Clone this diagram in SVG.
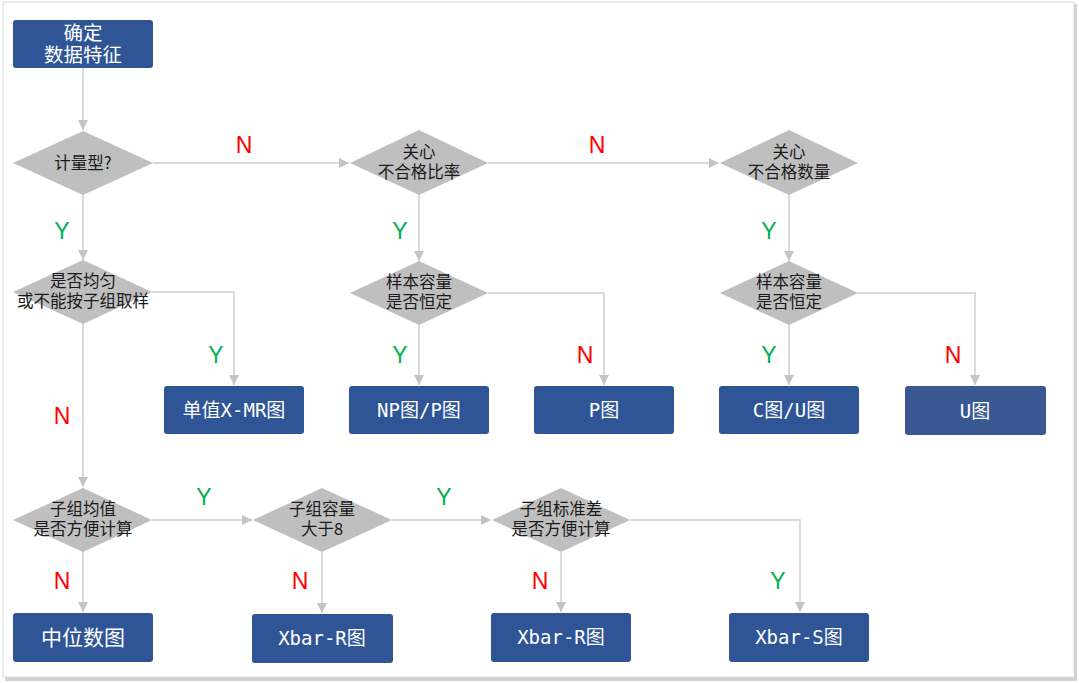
<svg xmlns="http://www.w3.org/2000/svg" width="1079" height="683" viewBox="0 0 1079 683">
<defs>
<marker id="arr" viewBox="0 0 10 10" refX="10" refY="5" markerWidth="10" markerHeight="10" markerUnits="userSpaceOnUse" orient="auto">
<path d="M0,0 L10,5 L0,10 Z" fill="#c4c4c4"/>
</marker>
</defs>
<style>
.dia{fill:#bfbfbf;}
.box{fill:#2f5597;}
.box2{fill:#3a5893;}
.dt{font-family:"Noto Sans CJK SC","Noto Sans",sans-serif;font-size:16.5px;fill:#1a1a1a;text-anchor:middle;}
.bt{font-family:"DejaVu Sans Mono","Noto Sans CJK SC",monospace;font-size:19px;fill:#ffffff;text-anchor:middle;}
.bc{font-family:"Noto Sans CJK SC","Noto Sans",sans-serif;font-size:20px;fill:#ffffff;text-anchor:middle;}
.ln{fill:none;stroke:#cfcfcf;stroke-width:1.5;}
.N{font-family:"Liberation Sans",Arial,sans-serif;font-size:23px;fill:#ff0000;text-anchor:middle;}
.Y{font-family:"Liberation Sans",Arial,sans-serif;font-size:23px;fill:#00b050;text-anchor:middle;}
</style>
<rect x="0" y="0" width="1079" height="683" fill="#ffffff"/>
<rect x="5" y="4" width="1072" height="677" fill="#d2d2d2"/>
<rect x="3" y="2" width="1071" height="675" fill="#ffffff" stroke="#dcdcdc" stroke-width="1"/>

<g id="connectors">
<path class="ln" d="M83,68 V130" marker-end="url(#arr)"/>
<path class="ln" d="M153,163 H349" marker-end="url(#arr)"/>
<path class="ln" d="M488,163 H719" marker-end="url(#arr)"/>
<path class="ln" d="M83,195 V260" marker-end="url(#arr)"/>
<path class="ln" d="M419,195 V261" marker-end="url(#arr)"/>
<path class="ln" d="M789,195 V261" marker-end="url(#arr)"/>
<path class="ln" d="M152,292 H234 V385" marker-end="url(#arr)"/>
<path class="ln" d="M83,324 V487" marker-end="url(#arr)"/>
<path class="ln" d="M419,325 V385" marker-end="url(#arr)"/>
<path class="ln" d="M488,293 H604 V385" marker-end="url(#arr)"/>
<path class="ln" d="M789,325 V385" marker-end="url(#arr)"/>
<path class="ln" d="M858,293 H975 V385" marker-end="url(#arr)"/>
<path class="ln" d="M152,520 H252" marker-end="url(#arr)"/>
<path class="ln" d="M83,552 V612" marker-end="url(#arr)"/>
<path class="ln" d="M392,520 H491" marker-end="url(#arr)"/>
<path class="ln" d="M322,552 V613" marker-end="url(#arr)"/>
<path class="ln" d="M561,552 V612" marker-end="url(#arr)"/>
<path class="ln" d="M630,520 H800 V612" marker-end="url(#arr)"/>
<text class="N" x="244" y="153">N</text>
<text class="N" x="597" y="153">N</text>
<text class="Y" x="62" y="239">Y</text>
<text class="Y" x="400" y="239">Y</text>
<text class="Y" x="769" y="239">Y</text>
<text class="Y" x="216" y="363">Y</text>
<text class="N" x="62" y="424">N</text>
<text class="Y" x="400" y="363">Y</text>
<text class="N" x="585" y="363">N</text>
<text class="Y" x="769" y="363">Y</text>
<text class="N" x="953" y="363">N</text>
<text class="Y" x="204" y="505">Y</text>
<text class="Y" x="444" y="505">Y</text>
<text class="N" x="62" y="589">N</text>
<text class="N" x="300" y="589">N</text>
<text class="N" x="540" y="589">N</text>
<text class="Y" x="778" y="589">Y</text>
</g>

<g id="start">
<rect class="box" x="13" y="20" width="140" height="48" rx="3"/>
<text class="bc" style="font-size:19.5px"><tspan x="83" y="40">确定</tspan><tspan x="83" y="62">数据特征</tspan></text>
</g>
<g id="d_measure">
<polygon class="dia" points="13,163 83,131 153,163 83,195"/>
<text class="dt" x="83" y="169">计量型?</text>
</g>
<g id="d_ratio">
<polygon class="dia" points="350,163 419,130 488,163 419,195"/>
<text class="dt"><tspan x="419" y="158">关心</tspan><tspan x="419" y="178">不合格比率</tspan></text>
</g>
<g id="d_count">
<polygon class="dia" points="720,163 789,130 858,163 789,195"/>
<text class="dt"><tspan x="789" y="158">关心</tspan><tspan x="789" y="178">不合格数量</tspan></text>
</g>
<g id="d_uniform">
<polygon class="dia" points="13,292 83,260 152,292 83,324"/>
<text class="dt"><tspan x="83" y="287">是否均匀</tspan><tspan x="83" y="307">或不能按子组取样</tspan></text>
</g>
<g id="d_size1">
<polygon class="dia" points="350,293 419,261 488,293 419,325"/>
<text class="dt"><tspan x="419" y="288">样本容量</tspan><tspan x="419" y="308">是否恒定</tspan></text>
</g>
<g id="d_size2">
<polygon class="dia" points="720,293 789,261 858,293 789,325"/>
<text class="dt"><tspan x="789" y="288">样本容量</tspan><tspan x="789" y="308">是否恒定</tspan></text>
</g>
<g id="b_xmr">
<rect class="box" x="164" y="386" width="140" height="48" rx="3"/>
<text class="bt" x="234" y="417">单值X-MR图</text>
</g>
<g id="b_np">
<rect class="box" x="349" y="386" width="140" height="48" rx="3"/>
<text class="bt" x="419" y="417">NP图/P图</text>
</g>
<g id="b_p">
<rect class="box" x="534" y="386" width="140" height="48" rx="3"/>
<text class="bt" x="604" y="417">P图</text>
</g>
<g id="b_cu">
<rect class="box" x="719" y="386" width="140" height="48" rx="3"/>
<text class="bt" x="789" y="417">C图/U图</text>
</g>
<g id="b_u">
<rect class="box2" x="905" y="386" width="141" height="49" rx="3"/>
<text class="bt" x="975" y="418">U图</text>
</g>
<g id="d_mean">
<polygon class="dia" points="13,520 83,488 152,520 83,552"/>
<text class="dt"><tspan x="83" y="515">子组均值</tspan><tspan x="83" y="535">是否方便计算</tspan></text>
</g>
<g id="d_gt8">
<polygon class="dia" points="253,520 322,488 392,520 322,552"/>
<text class="dt"><tspan x="322" y="515">子组容量</tspan><tspan x="322" y="535">大于8</tspan></text>
</g>
<g id="d_std">
<polygon class="dia" points="492,520 561,488 630,520 561,552"/>
<text class="dt"><tspan x="561" y="515">子组标准差</tspan><tspan x="561" y="535">是否方便计算</tspan></text>
</g>
<g id="b_median">
<rect class="box" x="13" y="613" width="140" height="49" rx="3"/>
<text class="bc" x="83" y="645" style="font-size:21px">中位数图</text>
</g>
<g id="b_xr1">
<rect class="box" x="252" y="614" width="141" height="49" rx="3"/>
<text class="bt" x="322" y="645">Xbar-R图</text>
</g>
<g id="b_xr2">
<rect class="box" x="491" y="613" width="140" height="49" rx="3"/>
<text class="bt" x="561" y="644">Xbar-R图</text>
</g>
<g id="b_xs">
<rect class="box" x="729" y="613" width="140" height="49" rx="3"/>
<text class="bt" x="799" y="644">Xbar-S图</text>
</g>
</svg>
